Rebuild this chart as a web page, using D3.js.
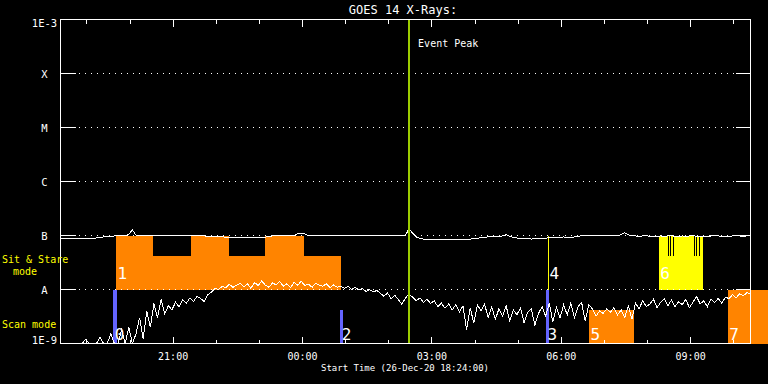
<!DOCTYPE html>
<html>
<head>
<meta charset="utf-8">
<script src="https://cdn.jsdelivr.net/npm/d3@7"></script>
<style>
  body { margin: 0; background: #000; }
  svg { display: block; }
  text { font-family: "DejaVu Sans Mono", "Liberation Mono", monospace; fill: #fff; }
</style>
</head>
<body>
<div id="chart"></div>
<script>
var width = 768;
var height = 384;

// GOES 14 fluxes, 5 minute samples from the start time, in units of 1E-9 W/m^2
var startTime = "2020-12-26 18:24";
var endTime = "2020-12-27 10:24";
var sampleMinutes = 5;

var shortFlux = [
  0.5,0.5,0.5,0.5,0.5,0.5,0.5,1.2,0.5,0.5,0.5,1.3,0.5,0.5,1.5,0.5,
  0.6,1.8,0.5,2.0,0.7,1.5,3.0,1.2,4.0,2.0,5.5,3.0,6.5,3.5,5.0,4.2,5.8,4.8,6.5,5.5,7.0,6.0,7.5,6.8,
  6.0,8.0,9.0,10.5,10.0,
  11.5,10.8,12.5,11.0,12.0,13.0,11.2,12.8,10.5,13.5,11.8,14.5,12.0,11.0,13.2,12.2,14.0,11.5,12.8,10.8,
  13.5,12.0,14.2,11.8,12.6,11.0,13.0,12.0,11.5,12.8,10.8,12.2,11.0,11.6,
  10.5,11.5,10.0,11.0,9.8,10.5,9.2,10.0,9.0,9.6,8.5,7.5,8.6,6.8,7.8,6.5,5.3,7.0,8.2,7.2,
  6.2,7.0,5.8,6.6,5.5,6.2,4.8,5.6,4.5,5.4,4.2,5.2,3.8,5.0,1.8,4.6,2.4,5.2,4.0,
  5.4,3.0,4.8,2.8,4.4,3.2,5.0,2.6,4.2,3.4,4.6,2.4,3.8,4.4,2.2,3.6,4.8,3.2,5.6,2.5,
  4.6,3.0,5.2,3.4,5.6,3.0,4.8,5.8,2.6,5.2,4.4,3.2,4.0,3.6,4.4,3.8,4.6,3.4,4.2,
  3.0,5.0,2.8,5.6,4.4,6.2,4.8,5.4,6.6,4.6,5.8,6.8,5.0,6.4,4.8,6.0,5.2,6.6,4.6,5.8,
  7.4,5.4,6.2,4.8,6.6,5.8,6.8,5.6,7.2,6.8,8.0,7.0,8.4,7.6,8.8,8.2
];

var longFlux = [
  88,87,88,89,88,87,88,89,88,
  88,90,92,94,96,
  97,98,99,99,100,
  104,128,101,
  100,99,100,101,100,99,100,100,101,100,99,100,100,99,100,101,100,99,
  98,97,96,97,96,95,
  93,92,92,93,92,91,92,92,93,92,91,93,
  96,98,99,98,99,100,99,101,
  108,109,107,
  100,101,100,99,100,101,100,100,99,100,101,100,99,100,100,101,100,99,100,100,
  101,100,99,100,101,100,99,101,
  134,110,94,88,
  86,85,86,84,85,86,84,85,84,86,85,84,85,86,87,89,91,
  93,94,95,94,96,98,104,97,
  92,90,88,87,88,86,87,88,87,89,
  92,93,91,92,94,93,92,94,
  97,99,100,99,100,98,99,100,99,100,98,99,
  104,112,103,
  99,98,97,98,99,97,96,97,98,97,98,99,97,96,98,97,98,99,97,98,
  96,97,98,99,98,97,96,97,98,99,98,97,98,99
];

var yTickValues = [1e-9, 1e-8, 1e-7, 1e-6, 1e-5, 1e-4, 1e-3];
var yTickLabels = ["1E-9", "A", "B", "C", "M", "X", "1E-3"];

var eventPeak = "2020-12-27 02:29";

// observation blocks: label, mode, start, end, filled fraction of the band, kind
var blocks = [
  ["0", "scan",  "2020-12-26 19:38", "2020-12-26 19:43", 1,    "cal"],
  ["1", "stare", "2020-12-26 19:42", "2020-12-26 20:34", 1,    "obs"],
  ["",  "stare", "2020-12-26 20:34", "2020-12-26 21:26", 0.62, "obs"],
  ["",  "stare", "2020-12-26 21:26", "2020-12-26 22:19", 1,    "obs"],
  ["",  "stare", "2020-12-26 22:19", "2020-12-26 23:09", 0.62, "obs"],
  ["",  "stare", "2020-12-26 23:09", "2020-12-27 00:03", 1,    "obs"],
  ["",  "stare", "2020-12-27 00:03", "2020-12-27 00:55", 0.62, "obs"],
  ["2", "scan",  "2020-12-27 00:54", "2020-12-27 00:58", 0.62, "cal"],
  ["3", "scan",  "2020-12-27 05:40", "2020-12-27 05:44", 1,    "cal"],
  ["4", "stare", "2020-12-27 05:43", "2020-12-27 05:43", 1,    "hop"],
  ["5", "scan",  "2020-12-27 06:40", "2020-12-27 07:43", 0.62, "obs"],
  ["6", "stare", "2020-12-27 08:17", "2020-12-27 09:19", 1,    "hop"],
  ["7", "scan",  "2020-12-27 09:53", "2020-12-27 11:30", 1,    "obs"]
];
// breaks inside block 6
var block6Marks = ["2020-12-27 08:30", "2020-12-27 08:33", "2020-12-27 08:37",
                   "2020-12-27 09:06", "2020-12-27 09:09", "2020-12-27 09:13"];

var kindColor = { obs: "#ff8400", cal: "#6464ff", hop: "#ffff00" };

var plotLeft = 60.5, plotRight = 750.5, plotTop = 19.5, plotBottom = 343.5;

var parseTime = d3.utcParse("%Y-%m-%d %H:%M");
var t0 = parseTime(startTime);

var x = d3.scaleUtc()
  .domain([t0, parseTime(endTime)])
  .range([plotLeft, plotRight]);

var y = d3.scaleLog()
  .domain([1e-9, 1e-3])
  .range([plotBottom, plotTop])
  .clamp(true);

var svg = d3.select('#chart').append('svg')
  .attr('width', width).attr('height', height)
  .attr('shape-rendering', 'crispEdges');

svg.append('rect').attr('width', width).attr('height', height).attr('fill', '#000');

svg.append('defs').append('clipPath').attr('id', 'plotClip')
  .append('rect')
    .attr('x', plotLeft).attr('y', plotTop)
    .attr('width', plotRight - plotLeft).attr('height', plotBottom - plotTop);

// observation blocks
function band(mode) {
  return mode === "stare" ? [y(1e-8), y(1e-7)] : [y(1e-9), y(1e-8)];
}

svg.selectAll('rect.block')
  .data(blocks)
  .enter()
  .append('rect')
  .attr('class', 'block')
  .attr('x', function(d){ return x(parseTime(d[2])) - 0.5; })
  .attr('width', function(d){ return Math.max(1, x(parseTime(d[3])) - x(parseTime(d[2]))); })
  .attr('y', function(d){ var b = band(d[1]); return b[0] - d[4] * (b[0] - b[1]); })
  .attr('height', function(d){ var b = band(d[1]); return d[4] * (b[0] - b[1]); })
  .attr('fill', function(d){ return kindColor[d[5]]; });

svg.selectAll('line.mark6')
  .data(block6Marks)
  .enter()
  .append('line')
  .attr('class', 'mark6')
  .attr('x1', function(d){ return x(parseTime(d)); })
  .attr('x2', function(d){ return x(parseTime(d)); })
  .attr('y1', y(1e-7))
  .attr('y2', y(1e-8) - 0.62 * (y(1e-8) - y(1e-7)))
  .attr('stroke', '#000')
  .attr('stroke-width', 1);

// y grid: solid major tick plus dotted line
var grid = svg.append('g');
var inner = yTickValues.slice(1, -1);
grid.selectAll('line.tl').data(inner).enter().append('line')
  .attr('x1', plotLeft).attr('x2', plotLeft + 15)
  .attr('y1', function(d){ return y(d); }).attr('y2', function(d){ return y(d); })
  .attr('stroke', '#fff');
grid.selectAll('line.tr').data(inner).enter().append('line')
  .attr('x1', plotRight - 15).attr('x2', plotRight)
  .attr('y1', function(d){ return y(d); }).attr('y2', function(d){ return y(d); })
  .attr('stroke', '#fff');
grid.selectAll('line.dot').data(inner).enter().append('line')
  .attr('x1', plotLeft + 18).attr('x2', plotRight - 15)
  .attr('y1', function(d){ return y(d); }).attr('y2', function(d){ return y(d); })
  .attr('stroke', '#fff')
  .attr('stroke-dasharray', '1,5');

// x ticks
function timeAxis(axis, yPos, size, every, labels) {
  var a = axis(x).ticks(d3.utcHour.every(every)).tickSize(size).tickPadding(9)
    .tickFormat(labels ? d3.utcFormat("%H:%M") : "");
  var g = svg.append('g').attr('transform', 'translate(0,' + yPos + ')').call(a);
  g.select('.domain').remove();
  g.selectAll('line').attr('stroke', '#fff');
  g.selectAll('text').attr('fill', '#fff').style('font-size', '10px')
    .style('font-family', '"DejaVu Sans Mono", monospace');
  return g;
}
timeAxis(d3.axisBottom, plotBottom, -4, 1, false);
timeAxis(d3.axisBottom, plotBottom, -7, 3, true);
timeAxis(d3.axisTop, plotTop, -4, 1, false);
timeAxis(d3.axisTop, plotTop, -7, 3, false);

// flux curves
var times = shortFlux.map(function(d, i){ return d3.utcMinute.offset(t0, i * sampleMinutes); });

var fluxLine = d3.line()
  .x(function(d, i){ return x(times[i]); })
  .y(function(d){ return y(d * 1e-9); });

var curves = svg.append('g').attr('clip-path', 'url(#plotClip)');
curves.append('path')
  .attr('d', fluxLine(longFlux))
  .attr('fill', 'none').attr('stroke', '#fff').attr('stroke-width', 1);
curves.append('path')
  .attr('d', fluxLine(shortFlux))
  .attr('fill', 'none').attr('stroke', '#fff').attr('stroke-width', 1);

// event peak
var peakX = x(parseTime(eventPeak));
svg.append('line')
  .attr('x1', peakX).attr('x2', peakX)
  .attr('y1', plotTop).attr('y2', plotBottom)
  .attr('stroke', '#9ccc00').attr('stroke-width', 2);
svg.append('text')
  .attr('x', peakX + 9).attr('y', 47)
  .style('font-size', '10px')
  .text('Event Peak');

// frame
svg.append('rect')
  .attr('x', plotLeft).attr('y', plotTop)
  .attr('width', plotRight - plotLeft).attr('height', plotBottom - plotTop)
  .attr('fill', 'none').attr('stroke', '#fff');

// block labels
svg.selectAll('text.blabel')
  .data(blocks.filter(function(d){ return d[0] !== ""; }))
  .enter()
  .append('text')
  .attr('class', 'blabel')
  .attr('x', function(d){ return x(parseTime(d[2])) + 1; })
  .attr('y', function(d){ return d[1] === "stare" ? 278.5 : 339.5; })
  .style('font-size', '16px')
  .text(function(d){ return d[0]; });

// y labels
svg.selectAll('text.ylabel')
  .data(yTickValues)
  .enter()
  .append('text')
  .attr('class', 'ylabel')
  .attr('x', 44.5)
  .attr('y', function(d){ return Math.min(Math.max(y(d) + 4, plotTop + 7.5), plotBottom); })
  .attr('text-anchor', 'middle')
  .style('font-size', '10.5px')
  .text(function(d, i){ return yTickLabels[i]; });

// mode labels
svg.append('text').attr('x', 2).attr('y', 263).style('font-size', '10px')
  .attr('fill', '#ffff00').style('fill', '#ffff00').text('Sit & Stare');
svg.append('text').attr('x', 13).attr('y', 275).style('font-size', '10px')
  .style('fill', '#ffff00').text('mode');
svg.append('text').attr('x', 2).attr('y', 328).style('font-size', '10px')
  .style('fill', '#ffff00').text('Scan mode');

// titles
svg.append('text').attr('x', 403).attr('y', 14).attr('text-anchor', 'middle')
  .style('font-size', '12px').text('GOES 14 X-Rays:');
svg.append('text').attr('x', 405).attr('y', 371).attr('text-anchor', 'middle')
  .style('font-size', '9px').text('Start Time (26-Dec-20 18:24:00)');
</script>
</body>
</html>
